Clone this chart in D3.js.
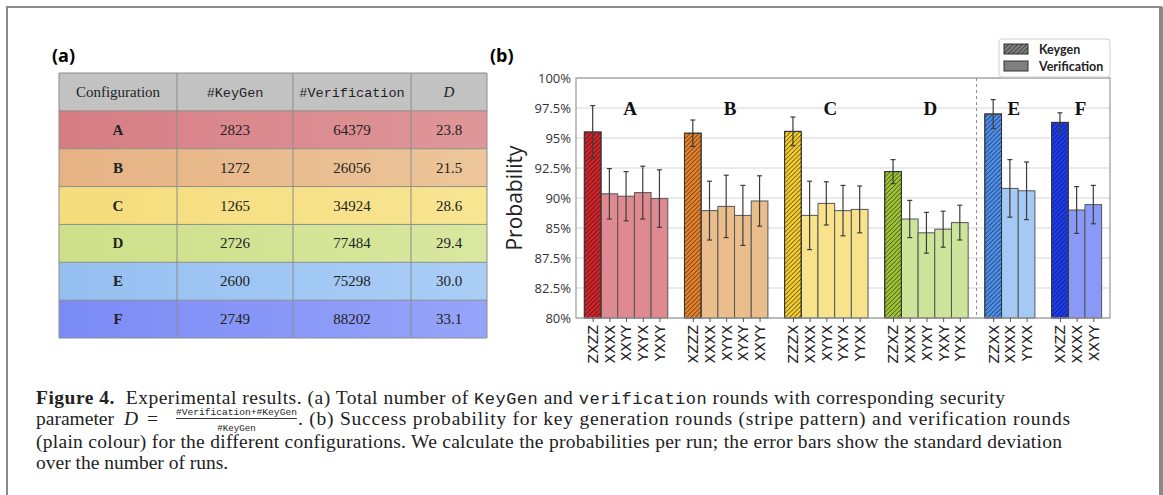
<!DOCTYPE html>
<html>
<head>
<meta charset="utf-8">
<style>
  body { margin: 0; background: #fff; }
  svg { display: block; }
</style>
</head>
<body>
<svg width="1163" height="495"></svg>
<script src="https://d3js.org/d3.v7.min.js"></script>
<script>

// --- table (a) ---
var configs = ["A", "B", "C", "D", "E", "F"];
var keygenCounts = [2823, 1272, 1265, 2726, 2600, 2749];
var verificationCounts = [64379, 26056, 34924, 77484, 75298, 88202];
var dValues = ["23.8", "21.5", "28.6", "29.4", "30.0", "33.1"];

// --- bar chart (b) ---
var barLabels = [
  ["ZXZZ", "XXXX", "XXYY", "YXYX", "YXXY"],
  ["XZZZ", "XXXX", "XYYX", "XYXY", "XXYY"],
  ["ZZZX", "XXXX", "XYYX", "YXYX", "YYXX"],
  ["ZZXZ", "XXXX", "XYXY", "YXXY", "YYXX"],
  ["ZZXX", "XXXX", "YYXX"],
  ["XXZZ", "XXXX", "XXYY"]
];
// first bar of every group is the keygen round
var barValues = [
  [95.5, 90.35, 90.15, 90.45, 89.95],
  [95.4, 88.95, 89.3, 88.55, 89.75],
  [95.55, 88.55, 89.55, 88.95, 89.05],
  [92.2, 88.25, 87.1, 87.4, 87.95],
  [97.0, 90.8, 90.6],
  [96.3, 89.0, 89.45]
];
var barErrors = [
  [2.2, 2.1, 2.05, 2.2, 2.4],
  [1.1, 2.45, 2.6, 2.5, 2.1],
  [1.2, 2.85, 1.8, 2.1, 1.95],
  [1.0, 1.55, 1.7, 1.5, 1.45],
  [1.2, 2.4, 2.4],
  [0.8, 1.95, 1.6]
];
var yTicks = [80, 82.5, 85, 87.5, 90, 92.5, 95, 97.5, 100];
var yTickLabels = ["80%", "82.5%", "87.5%", "85%", "90%", "92.5%", "95%", "97.5%", "100%"];

var keygenColors = ["#d3232b", "#e8832a", "#f6cd2e", "#9fc733", "#4d8fee", "#1c3cf4"];
var verifColors = ["#de8a90", "#eabd8d", "#f8e28c", "#cde59b", "#a5c9f5", "#8a99f8"];
var rowColorsLeft = ["#d67d84", "#e6b284", "#f5dc7c", "#cde088", "#96bff1", "#7b8bf6"];
var rowColorsRight = ["#df979a", "#ecc69a", "#f8e592", "#d8e8a0", "#aacef6", "#96a4f8"];

var svg = d3.select("svg");
var defs = svg.append("defs");

// page frame
svg.append("path")
    .attr("d", "M7,495 V7 H1161 V495")
    .attr("fill", "none").attr("stroke", "#8a8a8a").attr("stroke-width", 2);
svg.append("rect").attr("x", 1159).attr("y", 7).attr("width", 4).attr("height", 488).attr("fill", "#8a8a8a");

svg.append("text").attr("x", 52).attr("y", 62)
    .attr("font-family", "Open Sans, sans-serif").attr("font-weight", "bold").attr("font-size", 18)
    .text("(a)");
svg.append("text").attr("x", 490).attr("y", 62)
    .attr("font-family", "Open Sans, sans-serif").attr("font-weight", "bold").attr("font-size", 18)
    .text("(b)");

// ---------- table ----------
var colEdges = [59, 177, 293, 411, 487];
var rows = d3.scaleBand().domain(["header"].concat(configs)).range([73, 338]);

configs.forEach(function(c, i) {
  var g = defs.append("linearGradient").attr("id", "row-" + i)
      .attr("gradientUnits", "userSpaceOnUse")
      .attr("x1", colEdges[0]).attr("x2", colEdges[4]).attr("y1", 0).attr("y2", 0);
  g.append("stop").attr("offset", 0).attr("stop-color", rowColorsLeft[i]);
  g.append("stop").attr("offset", 1).attr("stop-color", rowColorsRight[i]);
});

var table = svg.append("g");
table.append("rect").attr("x", colEdges[0]).attr("y", rows("header"))
    .attr("width", colEdges[4] - colEdges[0]).attr("height", rows.bandwidth())
    .attr("fill", "#c2c2c2");
table.selectAll("rect.row").data(configs).enter().append("rect")
    .attr("class", "row")
    .attr("x", colEdges[0]).attr("y", function(d) { return rows(d); })
    .attr("width", colEdges[4] - colEdges[0]).attr("height", rows.bandwidth())
    .attr("fill", function(d, i) { return "url(#row-" + i + ")"; });
// grid
rows.domain().concat(["end"]).forEach(function(r) {
  var yy = r === "end" ? rows.range()[1] : rows(r);
  table.append("line").attr("x1", colEdges[0]).attr("x2", colEdges[4]).attr("y1", yy).attr("y2", yy)
      .attr("stroke", "#8c8c8c").attr("stroke-width", 1);
});
colEdges.forEach(function(xx) {
  table.append("line").attr("x1", xx).attr("x2", xx).attr("y1", rows.range()[0]).attr("y2", rows.range()[1])
      .attr("stroke", "#8c8c8c").attr("stroke-width", 1);
});

function cellX(j) { return (colEdges[j] + colEdges[j + 1]) / 2; }
var headY = rows("header") + rows.bandwidth() / 2 + 5;
var headers = [
  {t: "Configuration", f: "Liberation Serif, serif", s: 15, st: "normal"},
  {t: "#KeyGen", f: "Liberation Mono, monospace", s: 13.5, st: "normal"},
  {t: "#Verification", f: "Liberation Mono, monospace", s: 13.5, st: "normal"},
  {t: "D", f: "Liberation Serif, serif", s: 15, st: "italic"}
];
headers.forEach(function(h, j) {
  table.append("text").attr("x", cellX(j)).attr("y", headY)
      .attr("text-anchor", "middle").attr("font-family", h.f).attr("font-size", h.s)
      .attr("font-style", h.st).attr("fill", "#222").text(h.t);
});
configs.forEach(function(c, i) {
  var yy = rows(c) + rows.bandwidth() / 2 + 5;
  var cells = [c, keygenCounts[i], verificationCounts[i], dValues[i]];
  cells.forEach(function(v, j) {
    table.append("text").attr("x", cellX(j)).attr("y", yy)
        .attr("text-anchor", "middle").attr("font-family", "Liberation Serif, serif")
        .attr("font-size", 15).attr("font-weight", j === 0 ? "bold" : "normal")
        .attr("fill", "#222").text(v);
  });
});

// ---------- bar chart ----------
var plot = {left: 576, right: 1110, top: 78, bottom: 318};

// lay every bar on a slot, one empty slot between groups
var bars = [], groups = [], slot = 0;
barLabels.forEach(function(labels, gi) {
  var start = slot;
  labels.forEach(function(lab, bi) {
    bars.push({group: gi, label: lab, value: barValues[gi][bi], err: barErrors[gi][bi],
               keygen: bi === 0, slot: slot});
    slot++;
  });
  groups.push({name: configs[gi], start: start, end: slot - 1});
  slot++;
});
var nSlots = slot - 1;

var x = d3.scaleLinear().domain([-1, nSlots]).range([plot.left, plot.right]);
var y = d3.scaleLinear().domain([80, 100]).range([plot.bottom, plot.top]);
var bw = x(1) - x(0);

var pat = defs.append("pattern").attr("id", "hatch")
    .attr("patternUnits", "userSpaceOnUse").attr("width", 4.5).attr("height", 4.5);
pat.append("path").attr("d", "M-1,1 L1,-1 M0,4.5 L4.5,0 M3.5,5.5 L5.5,3.5")
    .attr("stroke", "#111").attr("stroke-width", 0.7);

var chart = svg.append("g");

// gridlines
chart.selectAll("line.grid").data(yTicks).enter().append("line")
    .attr("x1", plot.left).attr("x2", plot.right)
    .attr("y1", function(d) { return y(d); }).attr("y2", function(d) { return y(d); })
    .attr("stroke", "#e3e3e3").attr("stroke-width", 1.5);

// separator between D and E
var sep = (groups[3].end + groups[4].start) / 2;
chart.append("line").attr("x1", x(sep)).attr("x2", x(sep))
    .attr("y1", plot.top).attr("y2", plot.bottom)
    .attr("stroke", "#8a8a8a").attr("stroke-width", 1).attr("stroke-dasharray", "3,3");

chart.selectAll("rect.bar").data(bars).enter().append("rect")
    .attr("class", "bar")
    .attr("x", function(d) { return x(d.slot) - bw / 2; })
    .attr("y", function(d) { return y(d.value); })
    .attr("width", bw)
    .attr("height", function(d) { return y(80) - y(d.value); })
    .attr("fill", function(d) { return d.keygen ? keygenColors[d.group] : verifColors[d.group]; })
    .attr("stroke", "#555").attr("stroke-width", 1);

chart.selectAll("rect.hatch").data(bars.filter(function(d) { return d.keygen; })).enter().append("rect")
    .attr("x", function(d) { return x(d.slot) - bw / 2; })
    .attr("y", function(d) { return y(d.value); })
    .attr("width", bw)
    .attr("height", function(d) { return y(80) - y(d.value); })
    .attr("fill", "url(#hatch)").attr("stroke", "#333").attr("stroke-width", 1);

// error bars
var eb = chart.selectAll("g.err").data(bars).enter().append("g")
    .attr("stroke", "#3c3c3c").attr("stroke-width", 1.2);
eb.append("line")
    .attr("x1", function(d) { return x(d.slot); }).attr("x2", function(d) { return x(d.slot); })
    .attr("y1", function(d) { return y(d.value + d.err); })
    .attr("y2", function(d) { return y(d.value - d.err); });
[1, -1].forEach(function(s) {
  eb.append("line")
      .attr("x1", function(d) { return x(d.slot) - 2.5; }).attr("x2", function(d) { return x(d.slot) + 2.5; })
      .attr("y1", function(d) { return y(d.value + s * d.err); })
      .attr("y2", function(d) { return y(d.value + s * d.err); });
});

// frame
chart.append("rect").attr("x", plot.left).attr("y", plot.top)
    .attr("width", plot.right - plot.left).attr("height", plot.bottom - plot.top)
    .attr("fill", "none").attr("stroke", "#9a9a9a").attr("stroke-width", 1.2);

// group letters
chart.selectAll("text.grp").data(groups).enter().append("text")
    .attr("x", function(d) { return x((d.start + d.end) / 2) + 4; })
    .attr("y", 115)
    .attr("text-anchor", "middle")
    .attr("font-family", "Liberation Serif, serif").attr("font-weight", "bold").attr("font-size", 19)
    .attr("fill", "#111")
    .text(function(d) { return d.name; });

// y axis
var yAxis = svg.append("g").attr("transform", "translate(" + plot.left + ",0)")
    .call(d3.axisLeft(y).tickValues(yTicks).tickSize(0).tickPadding(5)
      .tickFormat(function(d, i) { return yTickLabels[i]; }));
yAxis.select(".domain").remove();
yAxis.selectAll("text").attr("font-family", "Open Sans, sans-serif").attr("font-size", 13).attr("fill", "#333");

// x axis
var xAxis = svg.append("g").attr("transform", "translate(0," + plot.bottom + ")")
    .call(d3.axisBottom(x).tickValues(bars.map(function(d) { return d.slot; }))
      .tickSize(4).tickPadding(3)
      .tickFormat(function(d) { return bars.find(function(b) { return b.slot === d; }).label; }));
xAxis.select(".domain").remove();
xAxis.selectAll("line").attr("stroke", "#555");
xAxis.selectAll("text")
    .attr("transform", "rotate(-90)")
    .attr("text-anchor", "end")
    .attr("x", -7).attr("y", 0).attr("dy", "0.35em")
    .attr("font-family", "DejaVu Sans, sans-serif").attr("font-size", 14).attr("fill", "#222");

svg.append("text")
    .attr("transform", "translate(522," + ((plot.top + plot.bottom) / 2) + ") rotate(-90)")
    .attr("text-anchor", "middle")
    .attr("font-family", "Open Sans, sans-serif").attr("font-size", 21).attr("fill", "#222")
    .text("Probability");

// legend
var lg = svg.append("g");
lg.append("rect").attr("x", 999).attr("y", 39).attr("width", 111).attr("height", 38).attr("rx", 3)
    .attr("fill", "#fff").attr("stroke", "#d0d0d0");
[{t: "Keygen", h: true}, {t: "Verification", h: false}].forEach(function(d, i) {
  var yy = 44 + i * 17;
  lg.append("rect").attr("x", 1004).attr("y", yy).attr("width", 24).attr("height", 10)
      .attr("fill", "#7f7f7f").attr("stroke", "#333").attr("stroke-width", 1);
  if (d.h) lg.append("rect").attr("x", 1004).attr("y", yy).attr("width", 24).attr("height", 10)
      .attr("fill", "url(#hatch)");
  lg.append("text").attr("x", 1039).attr("y", yy + 9.5)
      .attr("font-family", "Lato, sans-serif").attr("font-weight", "bold").attr("font-size", 12.5)
      .attr("fill", "#222").text(d.t);
});

// ---------- caption ----------
var serif = "Liberation Serif, serif", mono = "Liberation Mono, monospace";
var capSize = 19.5, capX = 36;
var cap = svg.append("g").attr("fill", "#222");

var l1 = cap.append("text").attr("x", capX).attr("y", 404).attr("font-family", serif).attr("font-size", capSize)
    .attr("textLength", 969).attr("lengthAdjust", "spacing");
l1.append("tspan").attr("font-weight", "bold").text("Figure 4.");
l1.append("tspan").text("\u00a0\u00a0Experimental results. (a) Total number of ");
l1.append("tspan").attr("font-family", mono).attr("font-size", 17).text("KeyGen");
l1.append("tspan").text(" and ");
l1.append("tspan").attr("font-family", mono).attr("font-size", 17).text("verification");
l1.append("tspan").text(" rounds with corresponding security");

var l2 = cap.append("text").attr("y", 425).attr("font-family", serif).attr("font-size", capSize);
l2.append("tspan").attr("x", capX).text("parameter");
l2.append("tspan").attr("x", capX + 88).attr("font-style", "italic").text("D");
l2.append("tspan").attr("x", capX + 111).text("=");
var fx = capX + 140;
var num = cap.append("text").attr("x", fx).attr("y", 414.5)
    .attr("font-family", mono).attr("font-size", 9.6).text("#Verification+#KeyGen");
var fw = num.node().getComputedTextLength();
cap.append("line").attr("x1", fx).attr("x2", fx + fw).attr("y1", 418.5).attr("y2", 418.5)
    .attr("stroke", "#222").attr("stroke-width", 0.9);
cap.append("text").attr("x", fx + fw / 2).attr("y", 430.5).attr("text-anchor", "middle")
    .attr("font-family", mono).attr("font-size", 9.2).text("#KeyGen");
var restX = fx + fw + 1;
cap.append("text").attr("x", restX).attr("y", 425).attr("font-family", serif).attr("font-size", capSize)
    .attr("textLength", 1070 - restX).attr("lengthAdjust", "spacing")
    .text(". (b) Success probability for key generation rounds (stripe pattern) and verification rounds");

cap.append("text").attr("x", capX).attr("y", 447.5).attr("font-family", serif).attr("font-size", capSize)
    .attr("textLength", 1062 - capX).attr("lengthAdjust", "spacing")
    .text("(plain colour) for the different configurations. We calculate the probabilities per run; the error bars show the standard deviation");
cap.append("text").attr("x", capX).attr("y", 469).attr("font-family", serif).attr("font-size", capSize)
    .text("over the number of runs.");

</script>
</body>
</html>
